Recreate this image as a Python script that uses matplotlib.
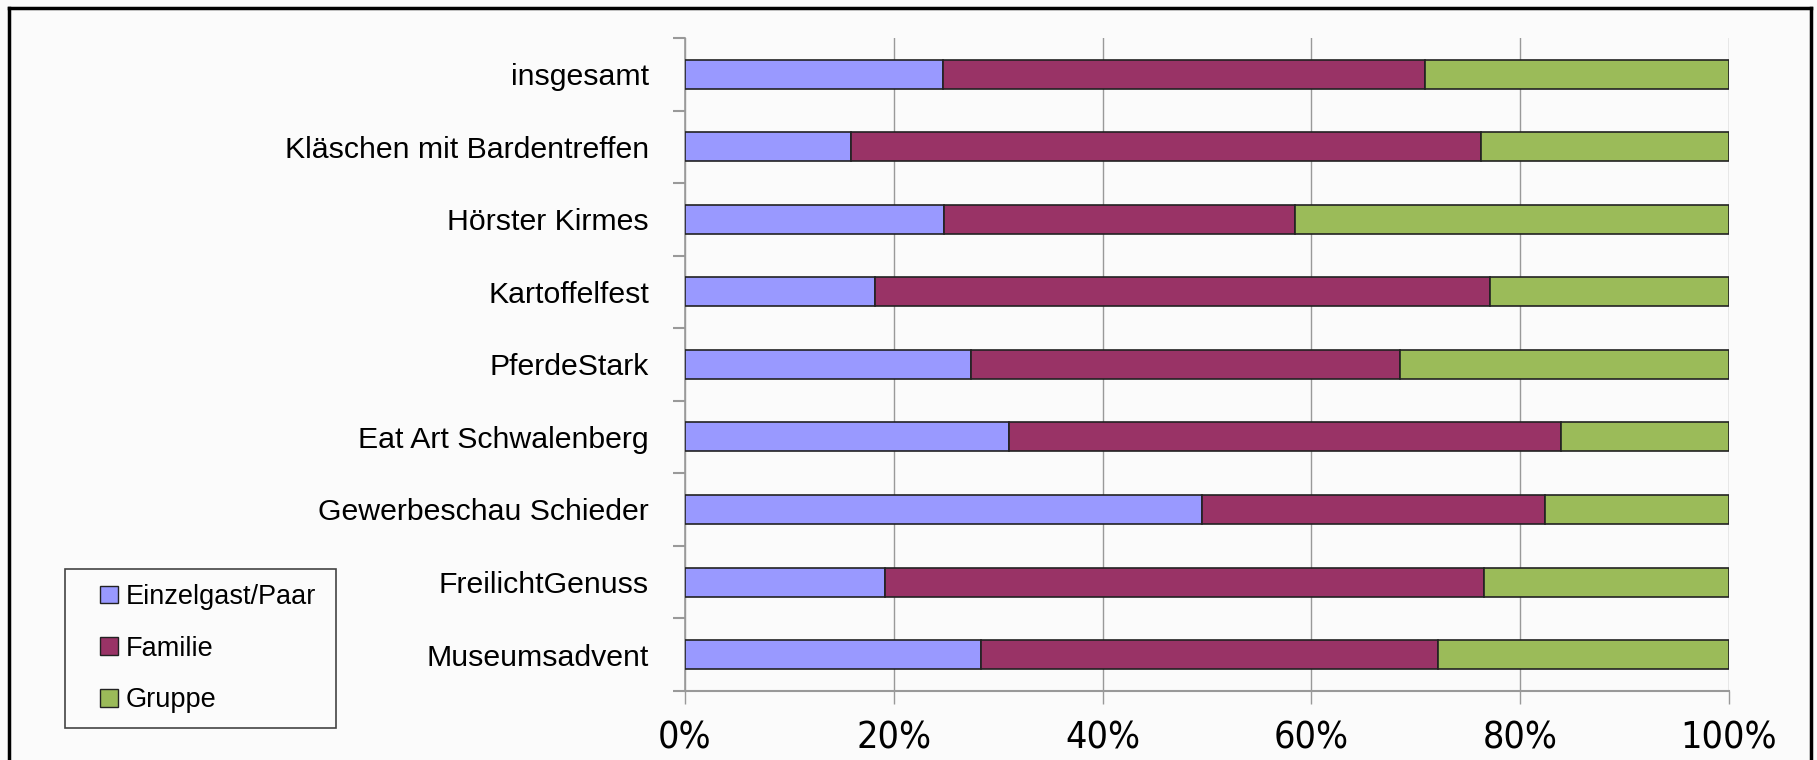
import numpy as np
import matplotlib.pyplot as plt
from matplotlib.lines import Line2D
from matplotlib.patches import Patch, Rectangle
from matplotlib.legend_handler import HandlerPatch

# Categories (top to bottom as shown)
events = ['insgesamt', 'Kläschen mit Bardentreffen', 'Hörster Kirmes', 'Kartoffelfest',
          'PferdeStark', 'Eat Art Schwalenberg', 'Gewerbeschau Schieder',
          'FreilichtGenuss', 'Museumsadvent']
einzel = np.array([24.7, 15.9, 24.8, 18.2, 27.4, 31.0, 49.5, 19.2, 28.4])
familie = np.array([46.2, 60.4, 33.6, 58.9, 41.1, 52.9, 32.9, 57.3, 43.7])
gruppe = 100 - einzel - familie

series_names = ['Einzelgast/Paar', 'Familie', 'Gruppe']
colors = ['#9999ff', '#993366', '#9bbb59']
bg = '#fbfbfb'

fig = plt.figure(figsize=(18.17, 7.6), dpi=100, facecolor=bg)
ax = fig.add_axes([0.377, 0.091, 0.5745, 0.859], facecolor=bg)

y = np.arange(len(events))
left = np.zeros(len(events))
for vals, col in zip([einzel, familie, gruppe], colors):
    ax.barh(y, vals, left=left, height=0.4, color=col, edgecolor='#222222',
            linewidth=1.2, zorder=3)
    left += vals

ax.set_xlim(0, 100)
ax.set_ylim(len(events) - 0.5, -0.5)

ax.set_xticks(np.arange(0, 101, 20))
ax.set_xticklabels([f'{v}%' for v in range(0, 101, 20)],
                   family=['DejaVu Sans'], fontstretch='condensed', fontsize=27)
ax.tick_params(axis='x', direction='out', length=9, width=1, color='#999999', pad=12.5)
ax.xaxis.grid(True, color='#999999', linewidth=1, zorder=0)

ax.set_yticks(y)
ax.set_yticklabels(events, family=['Liberation Sans', 'DejaVu Sans'], fontsize=21.8)
ax.set_yticks(np.arange(len(events) + 1) - 0.5, minor=True)
ax.tick_params(axis='y', which='major', length=0, pad=26)
ax.tick_params(axis='y', which='minor', direction='out', length=9, width=1.5,
               color='#999999')

for s in ['top', 'right']:
    ax.spines[s].set_visible(False)
ax.spines['left'].set_color('#999999')
ax.spines['bottom'].set_color('#999999')
ax.spines['left'].set_linewidth(1.2)
ax.spines['bottom'].set_linewidth(1.5)


class RightSquare(HandlerPatch):
    # square marker sitting at the right end of the handle box
    def create_artists(self, legend, orig_handle, xdescent, ydescent,
                       width, height, fontsize, trans):
        side = 0.65 * fontsize
        p = Rectangle((width - xdescent - side, -ydescent + (height - side) / 2),
                      side, side, facecolor=orig_handle.get_facecolor(),
                      edgecolor='#222222', linewidth=1, transform=trans)
        return [p]


handles = [Patch(facecolor=c) for c in colors]
leg = fig.legend(handles, series_names, loc='upper left',
                 bbox_to_anchor=(65 / 1817, 1 - 569 / 760, 271 / 1817, 0),
                 mode='expand', borderaxespad=0,
                 handler_map={Patch: RightSquare()},
                 prop={'family': ['Liberation Sans', 'DejaVu Sans'], 'size': 19.5},
                 handlelength=1.4, handleheight=0.65, handletextpad=0.3,
                 labelspacing=0.95, borderpad=0.55, fancybox=False,
                 edgecolor='#444444', facecolor=bg, framealpha=1)
leg.get_frame().set_linewidth(1.2)

# outer frame of the chart
fx0, fx1, fy1 = 9 / 1817, 1811 / 1817, 1 - 8 / 760
for xs, ys in [([fx0, fx0], [-0.1, fy1]), ([fx0, fx1], [fy1, fy1]), ([fx1, fx1], [fy1, -0.1])]:
    fig.add_artist(Line2D(xs, ys, transform=fig.transFigure, color='black', linewidth=2.5))

fig.savefig('out.png', dpi=100, facecolor=bg)
